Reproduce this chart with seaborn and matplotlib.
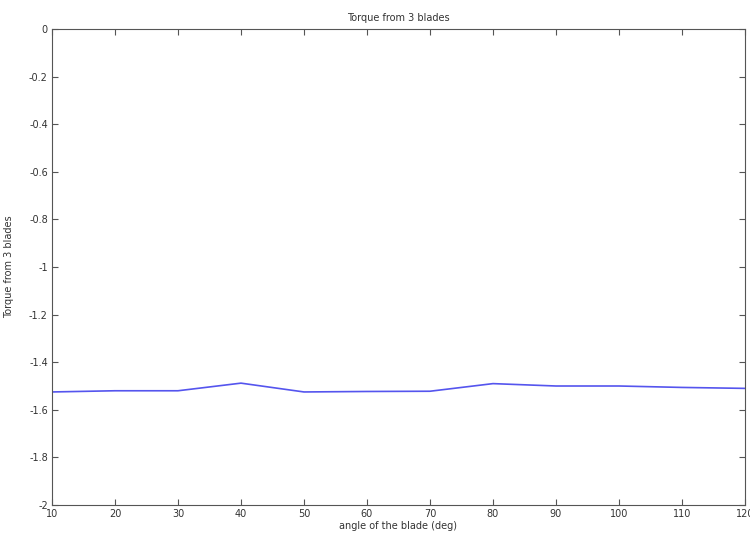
import pandas as pd
import numpy as np
import matplotlib.pyplot as plt
import seaborn as sns

sns.set_style("ticks")

# blade angle (deg) and torque from 3 blades
angle = [10, 20, 30, 40, 50, 60, 70, 80, 90, 100, 110, 120]
torque = [-1.525, -1.52, -1.52, -1.488, -1.525, -1.523, -1.522, -1.49, -1.50, -1.50, -1.506, -1.51]

df = pd.DataFrame({'angle': angle, 'torque': torque})

fig = plt.figure(figsize=(7.5, 5.35), dpi=100)
ax = fig.add_axes([0.0693, 0.056, 0.924, 0.89])

sns.lineplot(data=df, x='angle', y='torque', ax=ax, color='#5555ee', linewidth=1.2)

ax.set_xlim(10, 120)
ax.set_ylim(-2, 0)
ax.set_xticks(np.arange(10, 121, 10))
ax.set_yticks(np.arange(-2, 0.01, 0.2))
ax.set_xticklabels([str(v) for v in range(10, 121, 10)])
ax.set_yticklabels(['-2', '-1.8', '-1.6', '-1.4', '-1.2', '-1', '-0.8', '-0.6', '-0.4', '-0.2', '0'])

# matlab-like box with inward ticks on all sides
for s in ax.spines.values():
    s.set_visible(True)
    s.set_color('#555555')
    s.set_linewidth(0.8)
ax.tick_params(direction='in', top=True, right=True, labelsize=7, length=4, pad=3,
               color='#555555', labelcolor='#333333')

ax.set_title('Torque from 3 blades', fontsize=7, color='#333333', pad=6)
ax.set_xlabel('angle of the blade (deg)', fontsize=7, color='#333333', labelpad=1)
ax.set_ylabel('Torque from 3 blades', fontsize=7, color='#333333')
ax.yaxis.set_label_coords(-0.055, 0.5)

plt.savefig('out.png', dpi=100)
